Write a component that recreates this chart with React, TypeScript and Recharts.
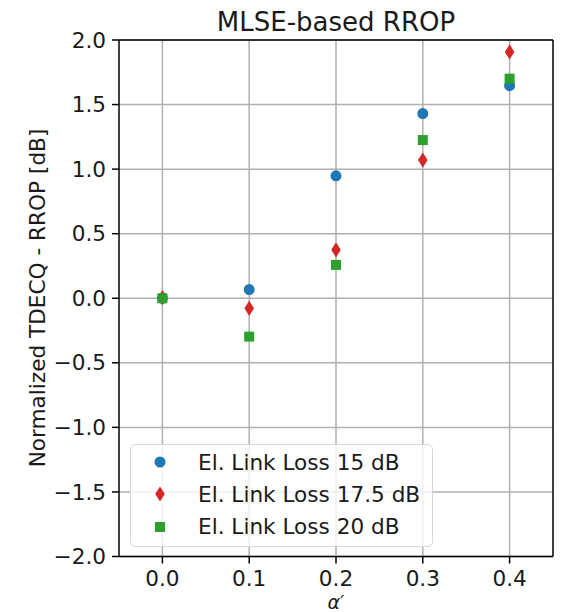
import {
  ScatterChart,
  Scatter,
  XAxis,
  YAxis,
  CartesianGrid,
  ReferenceLine,
} from "recharts"

const alphas = [0.0, 0.1, 0.2, 0.3, 0.4]
const loss15 = [0.0, 0.067, 0.948, 1.43, 1.646]
const loss175 = [0.005, -0.078, 0.375, 1.07, 1.908]
const loss20 = [0.0, -0.297, 0.258, 1.225, 1.7]

const xTicks = [0.0, 0.1, 0.2, 0.3, 0.4]
const yTicks = [-2.0, -1.5, -1.0, -0.5, 0.0, 0.5, 1.0, 1.5, 2.0]

const FONT = "'DejaVu Sans', sans-serif"
const TEXT = "#1a1a1a"

type ShapeProps = { cx?: number; cy?: number; fill?: string }

function CircleMark({ cx = 0, cy = 0, fill }: ShapeProps) {
  return <circle cx={cx} cy={cy} r={5.5} fill={fill} />
}

function DiamondMark({ cx = 0, cy = 0, fill }: ShapeProps) {
  const w = 4.8
  const h = 7.6
  return <path d={`M${cx},${cy - h}L${cx + w},${cy}L${cx},${cy + h}L${cx - w},${cy}Z`} fill={fill} />
}

function SquareMark({ cx = 0, cy = 0, fill }: ShapeProps) {
  return <rect x={cx - 5} y={cy - 5} width={10} height={10} fill={fill} />
}

const series = [
  { name: "El. Link Loss 15 dB", values: loss15, color: "#1f77b4", Mark: CircleMark },
  { name: "El. Link Loss 17.5 dB", values: loss175, color: "#d62728", Mark: DiamondMark },
  { name: "El. Link Loss 20 dB", values: loss20, color: "#2ca02c", Mark: SquareMark },
]

function fmt(v: number) {
  return v.toFixed(1).replace("-", "\u2212")
}

function LegendBox() {
  return (
    <div
      style={{
        position: "absolute",
        left: 130,
        top: 444,
        width: 303,
        boxSizing: "border-box",
        border: "1px solid #d8d8d8",
        borderRadius: 5,
        background: "rgba(255,255,255,0.8)",
        padding: "1px 0 3px 18px",
        fontFamily: FONT,
        fontSize: 21.6,
        color: TEXT,
      }}
    >
      {series.map(s => (
        <div key={s.name} style={{ display: "flex", alignItems: "center", height: 32.3 }}>
          <svg width={22} height={22} style={{ marginRight: 27 }}>
            <s.Mark cx={11} cy={11} fill={s.color} />
          </svg>
          <span style={{ whiteSpace: "nowrap" }}>{s.name}</span>
        </div>
      ))}
    </div>
  )
}

export default function App() {
  return (
    <div style={{ position: "absolute", left: 0, top: 0, width: 562, height: 612, background: "#fff" }}>
      <ScatterChart width={562} height={612} margin={{ top: 40, right: 9, bottom: 0, left: 0 }}>
        <CartesianGrid stroke="#b0b0b0" strokeWidth={1.5} horizontalValues={yTicks} verticalValues={xTicks} />
        <XAxis
          type="number"
          dataKey="x"
          domain={[-0.05, 0.45]}
          ticks={xTicks}
          allowDataOverflow
          height={55.5}
          tickFormatter={fmt}
          tickSize={7}
          tickMargin={7}
          tickLine={{ stroke: "#000", strokeWidth: 1.5 }}
          axisLine={{ stroke: "#000", strokeWidth: 1.5 }}
          tick={{ fill: TEXT, fontSize: 21.6, fontFamily: FONT }}
        />
        <YAxis
          type="number"
          dataKey="y"
          domain={[-2, 2]}
          ticks={yTicks}
          allowDataOverflow
          width={119}
          tickFormatter={fmt}
          tickSize={7}
          tickMargin={6}
          tickLine={{ stroke: "#000", strokeWidth: 1.5 }}
          axisLine={{ stroke: "#000", strokeWidth: 1.5 }}
          tick={{ fill: TEXT, fontSize: 21.6, fontFamily: FONT }}
        />
        <ReferenceLine y={2} stroke="#000" strokeWidth={1.5} />
        <ReferenceLine x={0.45} stroke="#000" strokeWidth={1.5} />
        {series.map(s => (
          <Scatter
            key={s.name}
            name={s.name}
            data={alphas.map((a, i) => ({ x: a, y: s.values[i] }))}
            fill={s.color}
            shape={<s.Mark />}
            isAnimationActive={false}
          />
        ))}
        <text x={336} y={31} textAnchor="middle" fontFamily={FONT} fontSize={26} fill={TEXT}>
          MLSE-based RROP
        </text>
        <text
          x={45}
          y={298}
          transform="rotate(-90 45 298)"
          textAnchor="middle"
          fontFamily={FONT}
          fontSize={21.6}
          fill={TEXT}
        >
          Normalized TDECQ - RROP [dB]
        </text>
        <text x={336} y={609} textAnchor="middle" fontFamily={FONT} fontSize={19} fontStyle="italic" fill={TEXT}>
          α′
        </text>
      </ScatterChart>
      <LegendBox />
    </div>
  )
}
